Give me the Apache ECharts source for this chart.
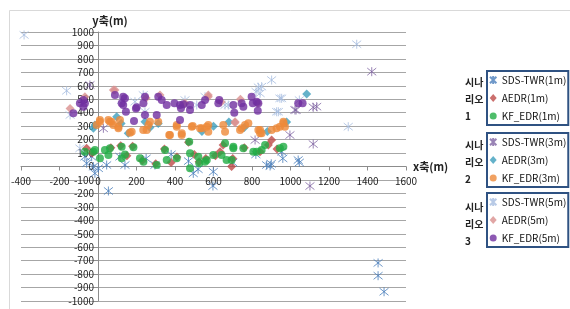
<!DOCTYPE html>
<html style="height: 100%">
<head>
  <meta charset="utf-8">
</head>
<body style="height: 100%; margin: 0; background: #fff">
  <div id="container" style="width: 570px; height: 309px"></div>
  <script src="https://cdn.jsdelivr.net/npm/echarts/dist/echarts.min.js"></script>
  <script>
    var xTicks = [-400, 1600, 200];
    var yTicks = [-1000, 1000, 100];
    var names = ['SDS-TWR(1m)', 'AEDR(1m)', 'KF_EDR(1m)',
                 'SDS-TWR(3m)', 'AEDR(3m)', 'KF_EDR(3m)',
                 'SDS-TWR(5m)', 'AEDR(5m)', 'KF_EDR(5m)'];

    // 시나리오 1 (1m)
    var sds1 = [[-68,73],[-59,24],[-33,73],[-24,-1],[-16,-51],[2,-13],[45,11],[54,-182],[114,73],[140,11],
      [296,11],[495,-51],[470,40],[520,-20],[599,-39],[597,-145],[876,11],[894,4],[900,20],[954,110],
      [1040,48],[1046,30],[380,90],[250,60],[700,30],[820,90],[960,60],[1455,-717],[1455,-812],[1486,-931]];
    var aedr1 = [[-59,135],[-30,100],[67,140],[118,155],[180,150],[230,45],[300,20],[345,130],[410,70],[470,180],
      [500,90],[525,35],[560,60],[634,110],[694,0],[700,60],[760,140],[842,110],[885,160],[902,197],
      [930,130],[610,80],[650,160],[380,30],[150,80]];
    var kf1 = [[-68,110],[-24,110],[-16,123],[10,61],[36,123],[54,86],[62,135],[123,147],[123,61],[184,143],
      [218,61],[236,36],[305,11],[348,123],[357,48],[409,61],[474,184],[478,98],[478,-13],[521,73],
      [526,24],[565,48],[556,36],[599,86],[642,86],[660,172],[668,48],[694,48],[703,135],[703,147],
      [755,135],[807,110],[824,110],[850,123],[868,160],[945,135],[963,147],[140,90]];

    // 시나리오 2 (3m)
    var sds3 = [[-42,606],[28,284],[1422,705],[1136,445],[1118,440],[1029,420],[997,234],[1118,167],[816,197],
      [1101,-145],[1023,420]];
    var aedr3 = [[-24,284],[-16,309],[97,370],[157,247],[244,333],[313,320],[1084,539],[120,320],[270,290],
      [540,260],[600,300],[760,290],[880,260],[980,330],[680,330]];
    var kf3 = [[-7,309],[10,333],[10,346],[54,346],[62,333],[80,309],[71,333],[106,284],[106,296],[114,346],
      [166,251],[175,259],[235,271],[253,271],[262,309],[270,333],[313,333],[370,234],[374,234],[409,296],
      [409,309],[435,234],[435,247],[487,296],[492,301],[530,284],[539,284],[565,296],[573,309],[573,259],
      [651,309],[660,259],[738,271],[746,284],[764,309],[781,321],[833,271],[842,271],[842,247],[850,247],
      [902,271],[928,284],[945,296],[963,321],[971,296],[963,333]];

    // 시나리오 3 (5m)
    var sds5 = [[-384,978],[-163,563],[-145,383],[-94,135],[123,494],[192,482],[235,532],[244,407],[452,494],
      [513,457],[556,519],[660,457],[677,457],[821,556],[833,589],[850,594],[842,544],[902,643],[928,407],
      [937,407],[945,507],[954,507],[1046,494],[1300,296],[1344,909]];
    var aedr5 = [[-145,432],[-68,519],[80,569],[88,569],[322,532],[452,470],[573,532],[573,519],[712,333],
      [712,326],[830,470],[250,510],[640,480],[740,500]];
    var kf5 = [[-128,395],[-94,470],[-76,494],[-76,445],[-68,470],[88,532],[131,519],[140,507],[123,470],
      [131,457],[145,407],[197,432],[201,440],[236,470],[244,519],[244,383],[305,383],[313,519],[331,494],
      [357,457],[397,470],[426,346],[426,457],[431,433],[443,462],[478,420],[478,457],[539,457],[556,494],
      [625,470],[630,494],[703,457],[708,400],[746,470],[755,445],[798,519],[804,470],[824,482],[830,415],
      [833,470],[1040,470],[1063,470],[187,338]];

    var seriesData = [sds1, aedr1, kf1, sds3, aedr3, kf3, sds5, aedr5, kf5];
    var colors = ['#4a7ebb', '#be4b48', '#22ad45', '#8064a2', '#3d9fbd', '#ee8a3a', '#a6bde0', '#d9908e', '#7030a0'];
    var star = 'path://M1,1L9,9M9,1L1,9M5,0L5,10';
    var font = 'Noto Sans CJK KR';

    // plot box in pixels, used to put both axes through the origin
    var gLeft = 21, gRight = 164, gTop = 32, gBottom = 8;
    var gW = 570 - gLeft - gRight, gH = 309 - gTop - gBottom;
    var yAxisOffset = -gW * (0 - xTicks[0]) / (xTicks[1] - xTicks[0]);
    var xAxisOffset = -gH * (0 - yTicks[0]) / (yTicks[1] - yTicks[0]);

    var series = seriesData.map(function (d, i) {
      var kind = i % 3;
      var s = {
        name: names[i],
        type: 'scatter',
        data: d,
        animation: false
      };
      if (kind === 0) {
        s.symbol = star;
        s.symbolSize = 9;
        s.itemStyle = { color: 'transparent', borderColor: colors[i], borderWidth: 1 };
      } else if (kind === 1) {
        s.symbol = 'diamond';
        s.symbolSize = 9;
        s.itemStyle = { color: colors[i] };
      } else {
        s.symbol = 'circle';
        s.symbolSize = 8;
        s.itemStyle = { color: colors[i] };
      }
      return s;
    });

    function legendBox(top, list) {
      return {
        orient: 'vertical',
        left: 487,
        top: top,
        data: list,
        itemWidth: 7,
        itemHeight: 8,
        itemGap: 8,
        padding: [4, 2, 4, 2],
        borderColor: '#2f5282',
        borderWidth: 2,
        textStyle: { fontFamily: font, fontSize: 10, color: '#111' }
      };
    }

    function scenario(n, top) {
      return {
        type: 'text',
        left: 465,
        top: top,
        style: {
          text: '시나\n리오\n' + n,
          font: 'bold 10px "Noto Sans CJK KR"',
          lineHeight: 17,
          fill: '#222',
          align: 'center',
          x: 9
        }
      };
    }

    var plain = function (v) { return String(v); };

    var myChart = echarts.init(document.getElementById('container'));
    var option = {
      backgroundColor: '#fff',
      textStyle: { fontFamily: font },
      grid: { left: gLeft, right: gRight, top: gTop, bottom: gBottom, outerBoundsMode: 'none', containLabel: false },
      xAxis: {
        type: 'value',
        position: 'bottom',
        offset: xAxisOffset,
        min: xTicks[0], max: xTicks[1], interval: xTicks[2],
        name: 'x축(m)',
        nameGap: 7,
        nameTextStyle: { fontFamily: font, fontSize: 11, fontWeight: 'bold', color: '#222' },
        splitLine: { show: false },
        axisLine: { onZero: false, lineStyle: { color: '#8c8c8c' } },
        axisTick: { length: 4, lineStyle: { color: '#8c8c8c' } },
        axisLabel: { fontSize: 10, color: '#1e1e1e', margin: 10, formatter: plain }
      },
      yAxis: {
        type: 'value',
        position: 'left',
        offset: yAxisOffset,
        min: yTicks[0], max: yTicks[1], interval: yTicks[2],
        name: 'y축(m)',
        nameGap: 6,
        nameTextStyle: { fontFamily: font, fontSize: 11, fontWeight: 'bold', color: '#222', padding: [0, 0, 0, 24] },
        splitLine: { lineStyle: { color: '#a6a6a6' } },
        axisLine: { onZero: false, lineStyle: { color: '#8c8c8c' } },
        axisTick: { length: 4, lineStyle: { color: '#8c8c8c' } },
        axisLabel: { fontSize: 10, color: '#1e1e1e', margin: 4, formatter: plain }
      },
      legend: [
        legendBox(71, names.slice(0, 3)),
        legendBox(133, names.slice(3, 6)),
        legendBox(193, names.slice(6, 9))
      ],
      graphic: [
        { type: 'rect', left: 7, top: 8, shape: { width: 620, height: 400 },
          style: { fill: 'none', stroke: '#d9d9d9', lineWidth: 1 }, silent: true },
        scenario(1, 74),
        scenario(2, 137),
        scenario(3, 199)
      ],
      series: series
    };
    myChart.setOption(option);
  </script>
</body>
</html>
